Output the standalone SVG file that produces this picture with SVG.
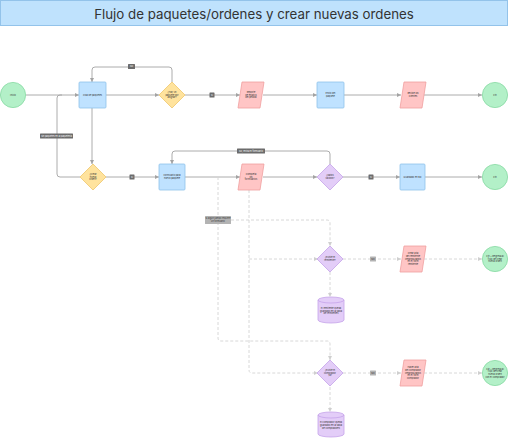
<svg xmlns="http://www.w3.org/2000/svg" width="508" height="438" viewBox="0 0 508 438">
<style>
.t{font-family:Inter,"Liberation Sans",sans-serif;font-size:2.3px;fill:#333;text-anchor:middle;dominant-baseline:central}
.lt{font-family:Inter,"Liberation Sans",sans-serif;font-size:2.2px;fill:#fff;text-anchor:middle;dominant-baseline:central}
.lg{font-family:Inter,"Liberation Sans",sans-serif;font-size:2.2px;fill:#333;text-anchor:middle;dominant-baseline:central}
.green{fill:#b3f0c8;stroke:#86d9a2;stroke-width:0.8}
.blue{fill:#bfe2ff;stroke:#8fc3ea;stroke-width:0.8}
.yellow{fill:#ffe39d;stroke:#efc66c;stroke-width:0.8}
.pink{fill:#ffc5c5;stroke:#ef9f9f;stroke-width:0.8}
.purple{fill:#e3cdf8;stroke:#c5a3ea;stroke-width:0.8}
.s{fill:none;stroke:#a3a3a3;stroke-width:0.9}
.d{fill:none;stroke:#d4d4d4;stroke-width:0.9;stroke-dasharray:3 2}
.lbl{fill:#6b6b6b}
.lblg{fill:#b3b3b3}
</style>
<defs>
<marker id="a" viewBox="0 0 6 6" refX="6" refY="3" markerWidth="4" markerHeight="4" orient="auto" markerUnits="userSpaceOnUse">
<path d="M0,0 L6,3 L0,6 Z" fill="#a3a3a3"/>
</marker>
<marker id="ad" viewBox="0 0 6 6" refX="6" refY="3" markerWidth="4" markerHeight="4" orient="auto" markerUnits="userSpaceOnUse">
<path d="M0,0 L6,3 L0,6 Z" fill="#cfcfcf"/>
</marker>
</defs>

<g id="title">
<rect x="0.5" y="0.5" width="507" height="25" fill="#bfe2fd" stroke="#93c3ea" stroke-width="1"/>
<text x="254" y="13.5" font-family="Inter,'Liberation Sans',sans-serif" font-size="13.3" fill="#333" text-anchor="middle" dominant-baseline="central">Flujo de paquetes/ordenes y crear nuevas ordenes</text>
</g>

<g id="connectors">
<path class="s" d="M26,95 H79" marker-end="url(#a)"/>
<path class="s" d="M80,177 H60 Q57,177 57,174 V98 Q57,95 60,95 H62"/>
<path class="s" d="M106,95 H159" marker-end="url(#a)"/>
<path class="s" d="M172,82 V70 Q172,67 169,67 H95 Q92,67 92,70 V82" marker-end="url(#a)"/>
<path class="s" d="M185,95 H240" marker-end="url(#a)"/>
<path class="s" d="M263,95 H317" marker-end="url(#a)"/>
<path class="s" d="M344,95 H401" marker-end="url(#a)"/>
<path class="s" d="M424,95 H482" marker-end="url(#a)"/>
<path class="s" d="M92,108 V164" marker-end="url(#a)"/>
<path class="s" d="M106,177 H159" marker-end="url(#a)"/>
<path class="s" d="M185,177 H240" marker-end="url(#a)"/>
<path class="s" d="M263,177 H317" marker-end="url(#a)"/>
<path class="s" d="M330,164 V154 Q330,151 327,151 H175 Q172,151 172,154 V164" marker-end="url(#a)"/>
<path class="s" d="M343,177 H400" marker-end="url(#a)"/>
<path class="s" d="M425,177 H482" marker-end="url(#a)"/>

<path class="d" d="M218,177 V338 Q218,341 221,341 H327 Q330,341 330,344 V360" marker-end="url(#ad)"/>
<path class="d" d="M231,220 H327 Q330,220 330,223 V246" marker-end="url(#ad)"/>
<path class="d" d="M249,190 V370 Q249,373 252,373 H318" marker-end="url(#ad)"/>
<path class="d" d="M249,259 H318" marker-end="url(#ad)"/>
<path class="d" d="M330,272 V297" marker-end="url(#ad)"/>
<path class="d" d="M343,259 H401" marker-end="url(#ad)"/>
<path class="d" d="M424,259 H482" marker-end="url(#ad)"/>
<path class="d" d="M343,373 H401" marker-end="url(#ad)"/>
<path class="d" d="M424,373 H482" marker-end="url(#ad)"/>
<path class="d" d="M330,387 V412" marker-end="url(#ad)"/>

<rect class="lbl" x="128" y="64" width="7" height="5" rx="0.5"/>
<text class="lt" x="131.5" y="66.5">No</text>
<rect class="lbl" x="209.5" y="92.5" width="5" height="5" rx="0.5"/>
<text class="lt" x="212" y="95">Sí</text>
<rect class="lbl" x="40" y="133.5" width="33" height="5" rx="0.5"/>
<text class="lt" x="56.5" y="136">Sin paquetes en la paquetería</text>
<rect class="lbl" x="129.5" y="174.5" width="5" height="5" rx="0.5"/>
<text class="lt" x="132" y="177">Sí</text>
<rect class="lbl" x="237" y="148.5" width="28" height="5" rx="0.5"/>
<text class="lt" x="251" y="151">No, revisa el formulario</text>
<rect class="lbl" x="368.5" y="174.5" width="5" height="5" rx="0.5"/>
<text class="lt" x="371" y="177">Sí</text>
<rect class="lblg" x="205" y="216" width="26" height="8" rx="0.5"/>
<text class="lg" x="218" y="218.8">Si algún campo requiere</text>
<text class="lg" x="218" y="221.4">un formulario</text>
<rect class="lblg" x="370" y="256.5" width="6" height="5" rx="0.5"/>
<text class="lg" x="373" y="259">NO</text>
<rect class="lblg" x="370" y="370.5" width="6" height="5" rx="0.5"/>
<text class="lg" x="373" y="373">NO</text>
</g>

<g id="inicio"><circle class="green" cx="13" cy="95" r="12.6"/><text class="t" x="13" y="95">Inicio</text></g>
<g id="cola"><rect class="blue" x="79" y="82" width="27" height="26" rx="1"/><text class="t" x="92.5" y="95">Cola de paquetes</text></g>
<g id="hay-paquete"><polygon class="yellow" points="172,82 185,95 172,108 159,95"/><text class="t" x="172" y="92.3">¿Hay un</text><text class="t" x="172" y="95">paquete por</text><text class="t" x="172" y="97.7">asignar?</text></g>
<g id="reporte"><polygon class="pink" points="242,82 264,82 260,108 238,108"/><text class="t" x="251" y="92.3">Reporte</text><text class="t" x="251" y="95">de estatus</text><text class="t" x="251" y="97.7">del pedido</text></g>
<g id="envio"><rect class="blue" x="317" y="82" width="27" height="26" rx="1"/><text class="t" x="330.5" y="93.6">Envío del</text><text class="t" x="330.5" y="96.4">paquete</text></g>
<g id="recibe"><polygon class="pink" points="404,82 426,82 422,108 400,108"/><text class="t" x="413" y="93.6">Recibe los</text><text class="t" x="413" y="96.4">clientes</text></g>
<g id="fin1"><circle class="green" cx="495" cy="95" r="12.6"/><text class="t" x="495" y="95">Fin</text></g>

<g id="crear-orden"><polygon class="yellow" points="93,164 106,177 93,190 80,177"/><text class="t" x="93" y="174.3">¿Crear</text><text class="t" x="93" y="177">nueva</text><text class="t" x="93" y="179.7">orden?</text></g>
<g id="formulario"><rect class="blue" x="159" y="164" width="26" height="26" rx="1"/><text class="t" x="172" y="175.6">Formulario para</text><text class="t" x="172" y="178.4">nuevo paquete</text></g>
<g id="completa"><polygon class="pink" points="242,164 264,164 260,190 238,190"/><text class="t" x="251" y="174.3">Completa</text><text class="t" x="251" y="177">los</text><text class="t" x="251" y="179.7">formularios</text></g>
<g id="datos-validos"><polygon class="purple" points="330,164 343,177 330,190 317,177"/><text class="t" x="330" y="175.6">¿Datos</text><text class="t" x="330" y="178.4">válidos?</text></g>
<g id="guardado"><rect class="blue" x="400" y="164" width="25" height="26" rx="1"/><text class="t" x="412.5" y="177">Guardado en BD</text></g>
<g id="fin2"><circle class="green" cx="495" cy="177" r="12.6"/><text class="t" x="495" y="177">Fin</text></g>

<g id="existe-remitente"><polygon class="purple" points="330,246 343,259 330,272 317,259"/><text class="t" x="330" y="257.6">¿Existe el</text><text class="t" x="330" y="260.4">remitente?</text></g>
<g id="alta-remitente"><polygon class="pink" points="404,246 426,246 422,272 400,272"/><text class="t" x="413" y="253.6">Crear alta</text><text class="t" x="413" y="256.3">del remitente</text><text class="t" x="413" y="259">llenando datos</text><text class="t" x="413" y="261.7">en el form</text><text class="t" x="413" y="264.4">remitente</text></g>
<g id="fin-remitente"><circle class="green" cx="495" cy="259" r="12.6"/><text class="t" x="495" y="256.3">Fin + Regresa al</text><text class="t" x="495" y="259">flujo de crear</text><text class="t" x="495" y="261.7">nueva orden</text></g>
<g id="bd-remitente"><path class="purple" d="M318,300 A13,3 0 0 1 344,300 V320 A13,3 0 0 1 318,320 Z"/><path d="M318,300 A13,3 0 0 0 344,300" fill="none" stroke="#c5a3ea" stroke-width="0.8"/><text class="t" x="331" y="308.3">El remitente queda</text><text class="t" x="331" y="311">guardado en la tabla</text><text class="t" x="331" y="313.7">de remitentes</text></g>

<g id="existe-comprador"><polygon class="purple" points="330,360 343,373 330,386 317,373"/><text class="t" x="330" y="370.3">¿Existe el</text><text class="t" x="330" y="373">comprador</text><text class="t" x="330" y="375.7">ya?</text></g>
<g id="alta-comprador"><polygon class="pink" points="404,360 426,360 422,386 400,386"/><text class="t" x="413" y="367.6">Hacer alta</text><text class="t" x="413" y="370.3">del comprador</text><text class="t" x="413" y="373">llenando datos</text><text class="t" x="413" y="375.7">en el form</text><text class="t" x="413" y="378.4">comprador</text></g>
<g id="fin-comprador"><circle class="green" cx="495" cy="373" r="12.6"/><text class="t" x="495" y="369">Fin + Regresa al</text><text class="t" x="495" y="371.7">flujo de crear</text><text class="t" x="495" y="374.4">nueva orden</text><text class="t" x="495" y="377.1">con el comprador</text></g>
<g id="bd-comprador"><path class="purple" d="M318,415 A13,3 0 0 1 344,415 V434 A13,3 0 0 1 318,434 Z"/><path d="M318,415 A13,3 0 0 0 344,415" fill="none" stroke="#c5a3ea" stroke-width="0.8"/><text class="t" x="331" y="422.8">El comprador queda</text><text class="t" x="331" y="425.5">guardado en la tabla</text><text class="t" x="331" y="428.2">de compradores</text></g>
</svg>
